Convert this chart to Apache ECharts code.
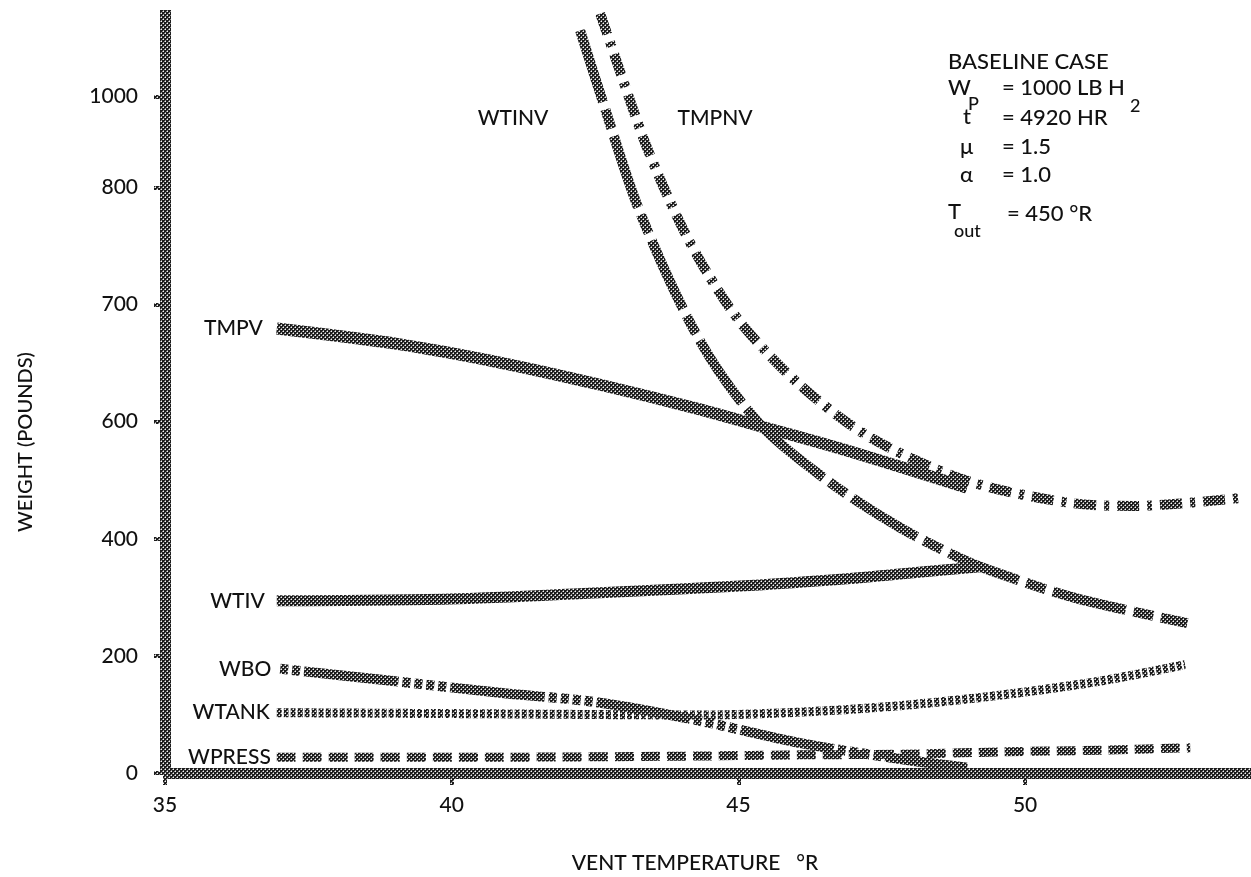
<!DOCTYPE html>
<html>
<head>
<meta charset="utf-8">
<script src="https://cdn.jsdelivr.net/npm/echarts@6/dist/echarts.min.js"></script>
<style>
  html, body { margin: 0; padding: 0; background: #ffffff; }
  #chart { width: 1251px; height: 877px; }
</style>
</head>
<body>
<div id="chart"></div>
<script>
// Vent temperature (°R) vs. component weight (lb) for the baseline case.
const xTickValues = [35, 40, 45, 50];
const yTickValues = [0, 200, 400, 600, 800, 1000, 1155];
const yTickLabels = ['0', '200', '400', '600', '700', '800', '1000'];

// [vent temperature, weight]
const tmpv   = [[36.95, 759], [39.10, 732], [40.84, 701], [42.59, 663], [44.33, 621], [45.43, 591], [46.95, 549], [48.99, 487]];
const wtiv   = [[36.95, 294], [39.97, 297], [42.59, 308], [45.20, 320], [46.95, 332], [47.82, 340], [49.22, 352]];
const wtinv  = [[42.24, 1268], [42.64, 1145], [43.29, 956], [44.33, 738], [45.38, 595], [46.60, 496], [47.82, 419], [48.82, 369], [49.36, 347], [50.87, 299], [52.83, 256]];
const tmpnv  = [[42.59, 1297], [42.94, 1197], [43.41, 1067], [43.98, 940], [44.45, 855], [45.08, 764], [46.08, 662], [47.30, 573], [48.99, 499], [50.73, 462], [51.88, 456], [53.80, 470]];
const wbo    = [[37.01, 178], [38.98, 157], [40.84, 137], [42.59, 120], [44.33, 89], [46.08, 51], [47.82, 24], [48.99, 9]];
const wtank  = [[36.95, 103], [40.84, 101], [44.33, 99], [46.08, 104], [47.82, 115], [49.57, 133], [51.31, 157], [52.79, 185]];
const wpress = [[36.95, 27], [40.84, 27], [44.33, 29], [46.08, 31], [47.82, 32], [49.57, 36], [51.31, 39], [52.88, 43]];

const FONT = 'Lato, "Open Sans", sans-serif';
const WEIGHT = 500;
const TEXT = '#111111';

// screened (halftone) ink used for every stroke: dark field with a diagonal dot lattice
function halftone() {
  const c = document.createElement('canvas');
  c.width = 4; c.height = 4;
  const g = c.getContext('2d');
  g.fillStyle = '#1c1c1c';
  g.fillRect(0, 0, 4, 4);
  g.fillStyle = '#f4f4f4';
  g.fillRect(1, 1, 1, 1);
  g.fillRect(3, 3, 1, 1);
  g.fillStyle = '#8c8c8c';
  g.fillRect(0, 1, 1, 1);
  g.fillRect(1, 0, 1, 1);
  g.fillRect(2, 3, 1, 1);
  g.fillRect(3, 2, 1, 1);
  return { image: c, repeat: 'repeat' };
}
const ink = halftone();

function curve(name, data, width, dash, labelGap, dashOffset) {
  const s = {
    type: 'line',
    name: name,
    data: data,
    symbol: 'none',
    showSymbol: false,
    smooth: 0.3,
    silent: true,
    lineStyle: { color: ink, width: width, type: dash, dashOffset: dashOffset || 0, cap: 'butt', join: 'round' }
  };
  if (labelGap != null) {
    s.markPoint = {
      silent: true,
      symbol: 'circle',
      symbolSize: 0,
      data: [{
        coord: data[0],
        label: {
          show: true, position: 'left', distance: labelGap, formatter: name,
          fontFamily: FONT, fontWeight: WEIGHT, fontSize: 21, color: TEXT
        }
      }]
    };
  }
  return s;
}

function txt(text, x, y, size, opts, rotation) {
  return {
    type: 'text',
    silent: true,
    x: x, y: y,
    rotation: rotation || 0,
    style: Object.assign({
      text: text, x: 0, y: 0,
      font: WEIGHT + ' ' + size + 'px ' + FONT,
      fill: TEXT,
      align: 'left',
      verticalAlign: 'middle'
    }, opts || {})
  };
}

const chart = echarts.init(document.getElementById('chart'), null, { renderer: 'canvas' });

chart.setOption({
  backgroundColor: '#ffffff',
  animation: false,
  grid: { left: 165, right: 0, top: 10, bottom: 104, containLabel: false },
  xAxis: {
    type: 'value',
    min: 35, max: 53.94, interval: 5,
    splitLine: { show: false },
    axisLine: { show: true, onZero: false, lineStyle: { color: ink, width: 11, cap: 'butt' } },
    axisTick: { show: true, length: 12, customValues: xTickValues, lineStyle: { color: ink, width: 4 } },
    axisLabel: {
      customValues: xTickValues, margin: 22,
      fontFamily: FONT, fontWeight: WEIGHT, fontSize: 21, color: TEXT
    }
  },
  yAxis: {
    type: 'value',
    min: 0, max: 1303,
    splitLine: { show: false },
    axisLine: { show: true, onZero: false, lineStyle: { color: ink, width: 11, cap: 'butt' } },
    axisTick: { show: true, length: 11, customValues: yTickValues, lineStyle: { color: ink, width: 4 } },
    axisLabel: {
      customValues: yTickValues, margin: 27,
      fontFamily: FONT, fontWeight: WEIGHT, fontSize: 21, color: TEXT,
      formatter: function (v) {
        const i = yTickValues.indexOf(v);
        return i >= 0 ? yTickLabels[i] : '';
      }
    }
  },
  series: [
    curve('TMPV', tmpv, 12, 'solid', 14),
    curve('WTIV', wtiv, 11, 'solid', 12),
    curve('WTINV', wtinv, 10, [75, 8, 20, 8], null),
    curve('TMPNV', tmpnv, 10, [22, 8, 5, 8], null),
    curve('WBO', wbo, 10, [95, 4, 8, 4, 8, 4, 8, 4, 8, 4], 9, 123),
    curve('WTANK', wtank, 9, [5, 2], 7),
    curve('WPRESS', wpress, 9, [19, 7], 6)
  ],
  graphic: [
    // curve names placed above the steep branches
    txt('WTINV', 513, 118, 21, { align: 'center' }),
    txt('TMPNV', 715, 118, 21, { align: 'center' }),
    // axis titles
    txt('WEIGHT (POUNDS)', 26, 442, 20, { align: 'center' }, Math.PI / 2),
    txt('VENT TEMPERATURE   \u00b0R', 695, 863, 21, { align: 'center' }),
    // case parameters
    txt('BASELINE CASE', 948, 62, 22),
    txt('W', 948, 88, 22),
    txt('P', 968, 104, 18),
    txt('= 1000 LB H', 1002, 88, 22),
    txt('2', 1130, 106, 18),
    txt('t', 963, 117, 22),
    txt('= 4920 HR', 1002, 118, 22),
    txt('\u03bc', 960, 147, 22),
    txt('= 1.5', 1002, 147, 22),
    txt('\u03b1', 960, 175, 22),
    txt('= 1.0', 1002, 175, 22),
    txt('T', 948, 212, 22),
    txt('out', 954, 231, 18),
    txt('= 450 \u00b0R', 1007, 214, 22)
  ]
});
</script>
</body>
</html>
